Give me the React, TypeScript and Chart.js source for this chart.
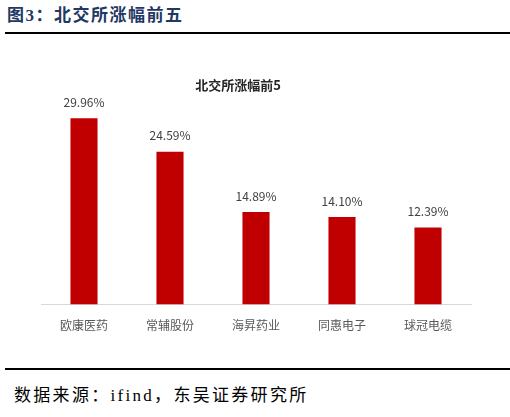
import React, { useEffect, useRef } from "react";
import { Chart, registerables } from "chart.js";

Chart.register(...registerables);

const categories = ["欧康医药", "常辅股份", "海昇药业", "同惠电子", "球冠电缆"];
const gains = [29.96, 24.59, 14.89, 14.1, 12.39];
const gainLabels = ["29.96%", "24.59%", "14.89%", "14.10%", "12.39%"];
const chartTitle = "北交所涨幅前5";
const figureTitle = "图3：北交所涨幅前五";
const sourceText = "数据来源：ifind，东吴证券研究所";

const sansFont = "'Microsoft YaHei', 'Noto Sans CJK SC', 'Noto Sans', sans-serif";
const pageFont = "'Liberation Serif', 'Noto Sans CJK SC', serif";

export default function App() {
  const ref = useRef<HTMLCanvasElement | null>(null);

  useEffect(() => {
    if (!ref.current) return;
    const valueLabels = {
      id: "valueLabels",
      afterDatasetsDraw(chart: any) {
        const ctx = chart.ctx;
        const meta = chart.getDatasetMeta(0);
        ctx.save();
        ctx.font = `12px ${sansFont}`;
        ctx.fillStyle = "#404040";
        ctx.textAlign = "center";
        ctx.textBaseline = "bottom";
        meta.data.forEach((bar: any, i: number) => {
          ctx.fillText(gainLabels[i], bar.x, bar.y - 10);
        });
        ctx.restore();
      },
    };
    const titlePlugin = {
      id: "customTitle",
      afterDraw(chart: any) {
        const ctx = chart.ctx;
        ctx.save();
        ctx.font = `bold 13px ${sansFont}`;
        ctx.fillStyle = "#262626";
        ctx.textAlign = "center";
        ctx.textBaseline = "middle";
        ctx.fillText(chartTitle, 238, 45);
        ctx.restore();
      },
    };
    const chart = new Chart(ref.current, {
      type: "bar",
      data: {
        labels: categories,
        datasets: [
          {
            data: gains,
            backgroundColor: "#C00000",
            borderWidth: 0,
            barPercentage: 0.63,
            categoryPercentage: 0.5,
          },
        ],
      },
      options: {
        responsive: false,
        animation: false,
        layout: { padding: { top: 47, left: 41, right: 39, bottom: 18 } },
        plugins: {
          legend: { display: false },
          title: { display: false },
          tooltip: { enabled: false },
        },
        scales: {
          x: {
            grid: { display: false, drawTicks: false },
            border: { display: true, color: "#D9D9D9", width: 1 },
            ticks: {
              padding: 14,
              color: "#595959",
              font: { size: 12, family: sansFont },
            },
          },
          y: {
            display: false,
            min: 0,
            max: 35,
          },
        },
      },
      plugins: [valueLabels, titlePlugin],
    });
    return () => chart.destroy();
  }, []);

  return (
    <div style={{ position: "absolute", left: 0, top: 0, width: 510, height: 417, background: "#fff" }}>
      <div
        style={{
          position: "absolute",
          left: 7,
          top: 4,
          fontFamily: pageFont,
          fontWeight: "bold",
          fontSize: 17,
          letterSpacing: 1.5,
          color: "#1F3864",
          whiteSpace: "nowrap",
          lineHeight: "24px",
        }}
      >
        {figureTitle}
      </div>
      <div style={{ position: "absolute", left: 5, top: 32, width: 505, height: 2, background: "#000" }} />
      <canvas
        ref={ref}
        width={510}
        height={325}
        style={{ position: "absolute", left: 0, top: 40, width: 510, height: 325 }}
      />
      <div style={{ position: "absolute", left: 5, top: 368, width: 505, height: 2, background: "#000" }} />
      <div
        style={{
          position: "absolute",
          left: 14,
          top: 385,
          fontFamily: pageFont,
          fontSize: 17,
          letterSpacing: 2.3,
          color: "#000",
          whiteSpace: "nowrap",
          lineHeight: "22px",
        }}
      >
        {sourceText}
      </div>
    </div>
  );
}
